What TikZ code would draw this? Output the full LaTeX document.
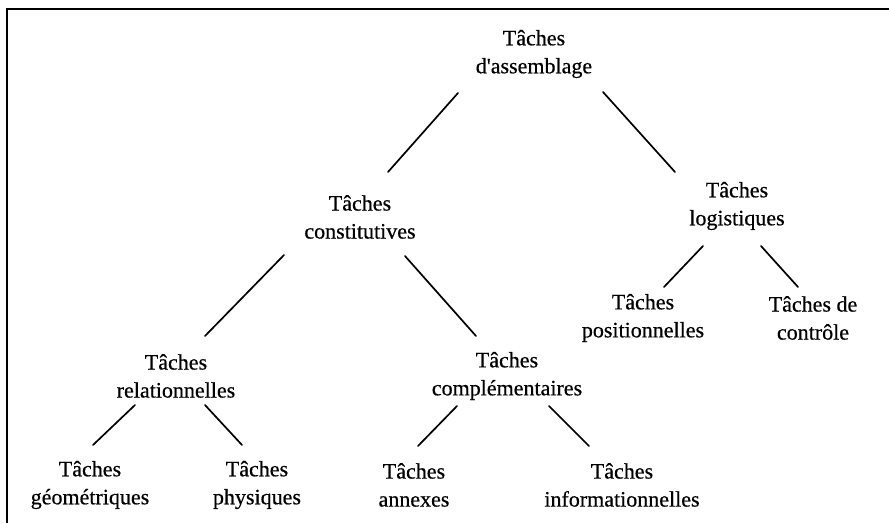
\documentclass[tikz,border=0pt]{standalone}
\usepackage{fontspec}
\setmainfont{Liberation Serif}
\newfontfamily\scanfont{Liberation Serif}[FakeBold=0.5]
\usepackage{tikz}
\tikzset{
  tasknode/.style={inner sep=0pt, align=center, font=\scanfont\fontsize{22}{28}\selectfont},
  branch/.style={line width=1.7pt, line cap=round},
  frameline/.style={line width=2.4pt}
}

\begin{document}
\begin{tikzpicture}[x=1pt, y=-1pt]
      \useasboundingbox (0,0) rectangle (889,523);
      \draw[frameline] (889,9) -- (7,9) -- (7,523);
      \node[tasknode] (top) at (534,54) {Tâches\\d\textquotesingle assemblage};
      \node[tasknode] (cons) at (360,217) {Tâches\\constitutives};
      \node[tasknode] (logi) at (737,206) {Tâches\\logistiques};
      \node[tasknode] (posi) at (643,318) {Tâches\\positionnelles};
      \node[tasknode] (ctrl) at (813,318) {Tâches de\\contrôle};
      \node[tasknode] (rela) at (176,376) {Tâches\\relationnelles};
      \node[tasknode] (comp) at (507,376) {Tâches\\complémentaires};
      \node[tasknode] (geom) at (90,485) {Tâches\\géométriques};
      \node[tasknode] (phys) at (257,485) {Tâches\\physiques};
      \node[tasknode] (anne) at (414,485) {Tâches\\annexes};
      \node[tasknode] (info) at (622,485) {Tâches\\informationnelles};
      \draw[branch] ([shift={(-76,39)}]top.center) -- ([shift={(28,-45)}]cons.center);
      \draw[branch] ([shift={(69,38)}]top.center) -- ([shift={(-62,-34)}]logi.center);
      \draw[branch] ([shift={(-76,38)}]cons.center) -- ([shift={(29,-40)}]rela.center);
      \draw[branch] ([shift={(45,39)}]cons.center) -- ([shift={(-31,-40)}]comp.center);
      \draw[branch] ([shift={(-34,40)}]logi.center) -- ([shift={(21,-31)}]posi.center);
      \draw[branch] ([shift={(24,40)}]logi.center) -- ([shift={(-15,-31)}]ctrl.center);
      \draw[branch] ([shift={(-41,29)}]rela.center) -- ([shift={(3,-40)}]geom.center);
      \draw[branch] ([shift={(29,29)}]rela.center) -- ([shift={(-15,-40)}]phys.center);
      \draw[branch] ([shift={(-50,30)}]comp.center) -- ([shift={(4,-39)}]anne.center);
      \draw[branch] ([shift={(42,30)}]comp.center) -- ([shift={(-33,-39)}]info.center);
    \end{tikzpicture}
\end{document}
